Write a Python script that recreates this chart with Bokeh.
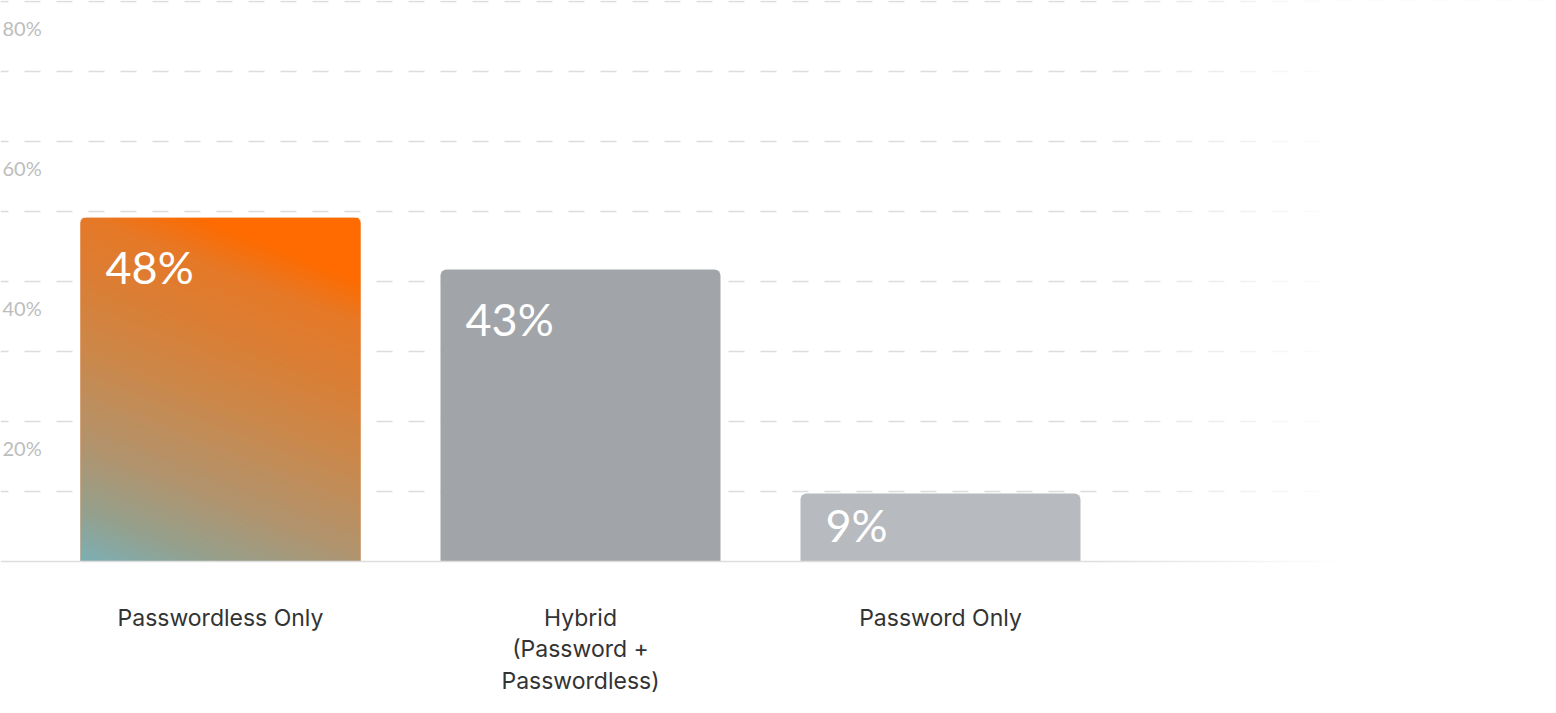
import numpy as np
from bokeh.plotting import figure
from bokeh.models import Range1d, ColumnDataSource, FixedTicker
from bokeh.core.properties import value
from bokeh.embed import file_html
from bokeh.resources import INLINE

# ---- data ----
categories = ["Passwordless Only", "Hybrid\n(Password +\nPasswordless)", "Password Only"]
bar_heights = [49.1, 41.7, 9.7]          # bar heights as drawn (percent scale)
value_labels = ["48%", "43%", "9%"]
tick_values = [20, 40, 60, 80]
tick_labels = ["20%", "40%", "60%", "80%"]
grid_values = [10, 20, 30, 40, 50, 60, 70, 80]

# ---- layout constants ----
W, H = 1548, 705
PX_PER_UNIT_Y = 7.0
PX_PER_SLOT = 360.0
BAR_PX = 280.0
FIRST_CENTER_PX = 220.0
BASE_PX = 561.0

xs = list(range(len(categories)))
bar_w = BAR_PX / PX_PER_SLOT
x0 = -FIRST_CENTER_PX / PX_PER_SLOT
x1 = x0 + W / PX_PER_SLOT
y_top = BASE_PX / PX_PER_UNIT_Y
y_bot = y_top - H / PX_PER_UNIT_Y

p = figure(width=W, height=H, x_range=Range1d(x0, x1), y_range=Range1d(y_bot, y_top),
           output_backend="svg", toolbar_location=None, min_border=0)
p.outline_line_color = None
p.background_fill_color = "white"
p.border_fill_color = "white"
p.xaxis.visible = False
p.yaxis.visible = False
p.xgrid.visible = False
p.ygrid.ticker = FixedTicker(ticks=grid_values)
p.ygrid.grid_line_color = "#dcdcdc"
p.ygrid.grid_line_width = 1.5
p.ygrid.grid_line_dash = "16 16"
p.ygrid.grid_line_dash_offset = 8

# bars
src = ColumnDataSource(dict(x=xs, left=[v - bar_w / 2 for v in xs], top=bar_heights,
                            color=["#e07a30", "#a1a5a9", "#b7babe"],
                            label=value_labels,
                            yoff=[49, 49, 31]))
p.vbar(x="x", top="top", bottom=0, width=bar_w, fill_color="color", line_color=None,
       border_radius=(6, 6, 0, 0), source=src)

# gradient fill (style) for first bar
gh = int(round(bar_heights[0] * PX_PER_UNIT_Y))
gw = int(BAR_PX)
yy, xx = np.mgrid[0:gh, 0:gw].astype(float) + 0.5
dvec = np.array([110.0, 280.0])
dvec /= np.hypot(*dvec)
tpx = dvec[0] * xx + dvec[1] * yy
t = tpx / (dvec[0] * gw + dvec[1] * gh)
stops = [0.0, 0.12, 0.26, 0.47, 0.62, 0.76, 0.86, 1.0]
rs = [124, 150, 178, 204, 218, 230, 255, 255]
gs = [176, 160, 148, 136, 127, 121, 107, 107]
bs = [182, 140, 110, 74, 54, 40, 0, 0]
r = np.interp(t, stops, rs)
g = np.interp(t, stops, gs)
b = np.interp(t, stops, bs)
alpha = np.full((gh, gw), 255.0)
rad = 6.0
for cx in (rad, gw - rad):
    cy = gh - rad
    d = np.sqrt((xx - cx) ** 2 + (yy - cy) ** 2)
    region = (yy > cy) & ((xx < rad) if cx == rad else (xx > gw - rad))
    cov = np.clip(rad + 0.5 - d, 0, 1)
    alpha = np.where(region, 255.0 * cov, alpha)
img = np.empty((gh, gw), dtype=np.uint32)
view = img.view(dtype=np.uint8).reshape((gh, gw, 4))
view[..., 0] = r.astype(np.uint8)
view[..., 1] = g.astype(np.uint8)
view[..., 2] = b.astype(np.uint8)
view[..., 3] = alpha.astype(np.uint8)
p.image_rgba(image=[img], x=xs[0] - bar_w / 2, y=0, dw=bar_w, dh=bar_heights[0])

# baseline
p.segment(x0=[x0], y0=[0], x1=[x1], y1=[0], line_color="#dddddd", line_width=1.5)

# right-side fade
fade_start_px, fade_end_px = 1080, 1350
fw = int(W - fade_start_px)
fx = np.arange(fw) + fade_start_px
fa = np.clip((fx - fade_start_px) / (fade_end_px - fade_start_px), 0, 1) * 255
fimg = np.empty((2, fw), dtype=np.uint32)
fv = fimg.view(dtype=np.uint8).reshape((2, fw, 4))
fv[..., 0] = 255
fv[..., 1] = 255
fv[..., 2] = 255
fv[..., 3] = fa.astype(np.uint8)[None, :]
p.image_rgba(image=[fimg], x=x0 + fade_start_px / PX_PER_SLOT, y=y_bot,
             dw=fw / PX_PER_SLOT, dh=y_top - y_bot)

# value labels
p.text(x="left", y="top", text="label", source=src,
       x_offset=25, y_offset="yoff", text_font=value("Lato"), text_font_size="45px",
       text_color="white", text_baseline="alphabetic", text_align="left")

# tick labels
p.text(x=[x0] * len(tick_values), y=tick_values, text=tick_labels,
       x_offset=2, y_offset=26, text_font=value("Lato"), text_font_size="20px",
       text_color="#bdbdbd", text_baseline="middle", text_align="left")

# category labels
p.text(x=xs, y=[0] * len(xs), text=categories, y_offset=42,
       text_font=value("Inter"), text_font_size="23px", text_color="#333333",
       text_baseline="top", text_align="center", text_line_height=1.13)

open("out.html", "w").write(file_html(p, INLINE))
